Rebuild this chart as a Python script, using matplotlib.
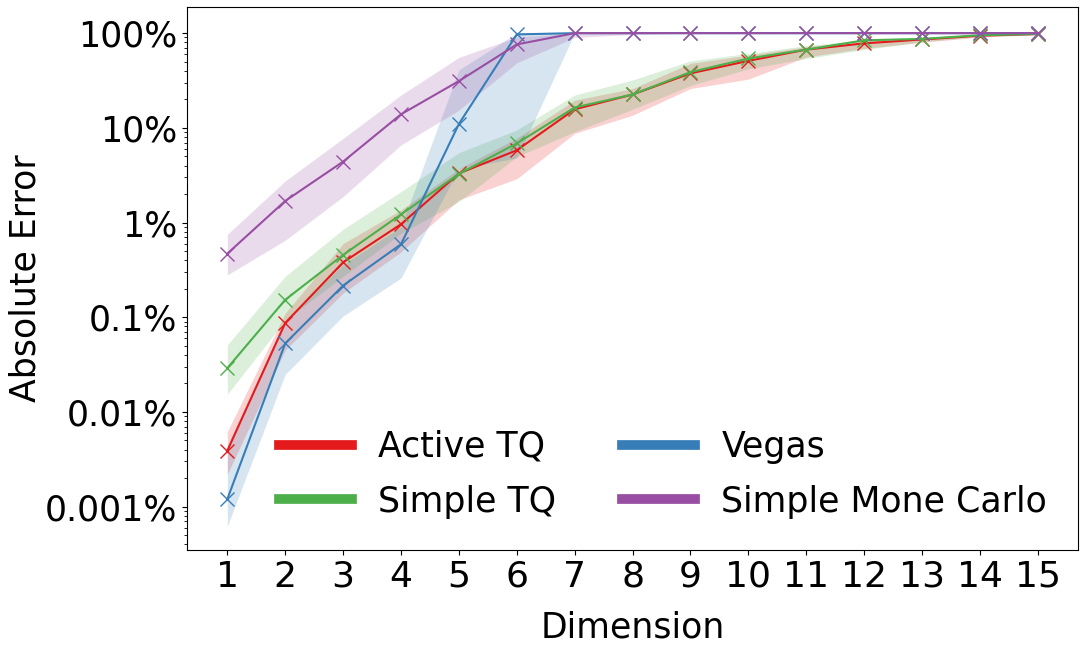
import matplotlib
matplotlib.use("Agg")
import matplotlib.pyplot as plt
from matplotlib.ticker import FuncFormatter, LogLocator

dims = list(range(1, 16))

# mean absolute error (fraction), with lower / upper band
active_tq = [3.9e-5, 8.7e-4, 0.0038, 0.0096, 0.033, 0.058, 0.157, 0.225, 0.376, 0.51, 0.67, 0.78, 0.857, 0.94, 0.98]
active_lo = [2.2e-5, 4.5e-4, 0.0018, 0.0049, 0.0174, 0.029, 0.0875, 0.136, 0.26, 0.327, 0.56, 0.69, 0.80, 0.91, 0.96]
active_hi = [6.2e-5, 1.1e-3, 0.0060, 0.0136, 0.037, 0.078, 0.196, 0.26, 0.48, 0.586, 0.72, 0.83, 0.88, 0.96, 1.0]

simple_tq = [2.9e-4, 0.00153, 0.00455, 0.0122, 0.0326, 0.0686, 0.164, 0.225, 0.388, 0.54, 0.67, 0.84, 0.87, 0.95, 0.98]
simple_lo = [1.54e-4, 9.3e-4, 0.0027, 0.0077, 0.0166, 0.0496, 0.091, 0.157, 0.28, 0.42, 0.54, 0.67, 0.81, 0.92, 0.97]
simple_hi = [5.1e-4, 0.0027, 0.0085, 0.0212, 0.0547, 0.095, 0.222, 0.32, 0.51, 0.61, 0.74, 0.85, 0.88, 0.97, 1.0]

vegas = [1.2e-5, 5.3e-4, 0.00216, 0.0059, 0.11, 0.97, 1.0, 1.0, 1.0, 1.0, 1.0, 1.0, 1.0, 1.0, 1.0]
vegas_lo = [6.2e-6, 2.5e-4, 0.00103, 0.0026, 0.037, 0.048, 1.0, 1.0, 1.0, 1.0, 1.0, 1.0, 1.0, 1.0, 1.0]
vegas_hi = [4.3e-5, 9.3e-4, 0.0036, 0.009, 0.41, 1.0, 1.0, 1.0, 1.0, 1.0, 1.0, 1.0, 1.0, 1.0, 1.0]

mc = [0.0047, 0.0169, 0.044, 0.139, 0.312, 0.76, 1.0, 1.0, 1.0, 1.0, 1.0, 1.0, 1.0, 1.0, 1.0]
mc_lo = [0.0028, 0.0065, 0.0188, 0.066, 0.154, 0.486, 0.90, 0.97, 1.0, 1.0, 1.0, 1.0, 1.0, 1.0, 1.0]
mc_hi = [0.0075, 0.0275, 0.0774, 0.222, 0.554, 0.91, 1.0, 1.0, 1.0, 1.0, 1.0, 1.0, 1.0, 1.0, 1.0]

series = [
    ("Active TQ", active_tq, active_lo, active_hi, "#e41a1c"),
    ("Simple TQ", simple_tq, simple_lo, simple_hi, "#4daf4a"),
    ("Vegas", vegas, vegas_lo, vegas_hi, "#377eb8"),
    ("Simple Mone Carlo", mc, mc_lo, mc_hi, "#984ea3"),
]

plt.rcParams["font.size"] = 25

fig = plt.figure(figsize=(10.86, 6.53), dpi=100)
ax = fig.add_axes([0.172, 0.158, 0.821, 0.831])

for name, mean, lo, hi, col in series:
    ax.plot(dims, mean, color=col, marker="x", markersize=10, linewidth=1.5, label=name)
    ax.fill_between(dims, lo, hi, color=col, alpha=0.2, linewidth=0)

ax.set_yscale("log")
ax.set_ylim(3.5e-6, 1.88)
ax.set_xticks(dims)
ax.yaxis.set_major_locator(LogLocator(base=10, numticks=10))


def pct(v, pos):
    s = "{:f}".format(v * 100).rstrip("0").rstrip(".")
    return s + "%"


ax.yaxis.set_major_formatter(FuncFormatter(pct))
ax.tick_params(axis="x", labelsize=26)
ax.set_xlabel("Dimension", labelpad=12)
ax.set_ylabel("Absolute Error", labelpad=1.5)

leg = ax.legend(loc="lower right", ncol=2, frameon=False,
                handlelength=2.1, handletextpad=0.75, columnspacing=1.9,
                labelspacing=0.6)
for line in leg.get_lines():
    line.set_linewidth(7)
    line.set_markersize(5)

fig.savefig("out.png", dpi=100)
